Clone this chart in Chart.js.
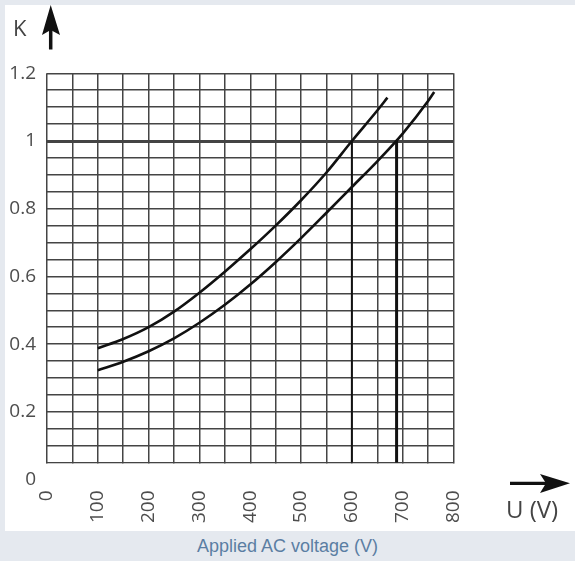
<!DOCTYPE html>
<html>
<head>
<meta charset="utf-8">
<script src="https://cdn.jsdelivr.net/npm/chart.js@4"></script>
<style>
  html, body { margin: 0; padding: 0; }
  body { width: 575px; height: 561px; background: #e5e9ef; position: relative; overflow: hidden; }
  #panel { position: absolute; left: 5px; top: 5px; width: 570px; height: 526px; background: #fff; }
  #wrap { position: absolute; left: 0; top: 0; width: 575px; height: 531px; }
  #caption { position: absolute; left: 0; top: 536px; width: 575px; height: 22px; line-height: 22px;
             text-align: center; color: #5b7ea3; font: 18px "Liberation Sans", Arial, sans-serif; }
</style>
</head>
<body>
<div id="panel"></div>
<div id="wrap"><canvas id="kChart"></canvas></div>
<div id="caption">Applied AC voltage (V)</div>
<script>
// Curve data
const voltageA = [100, 150, 200, 250, 300, 350, 400, 450, 500, 550, 600, 650, 670];
const factorA  = [0.388, 0.415, 0.450, 0.496, 0.552, 0.614, 0.680, 0.750, 0.825, 0.907, 1.0, 1.09, 1.128];
const voltageB = [100, 150, 200, 250, 300, 350, 400, 450, 500, 550, 600, 650, 700, 750, 762];
const factorB  = [0.323, 0.348, 0.379, 0.417, 0.463, 0.516, 0.576, 0.642, 0.713, 0.788, 0.864, 0.940, 1.022, 1.118, 1.145];

// drop lines from K = 1 to the curve crossings
const markVoltages = [600, 688];
const markTop = 1;
const gridFloor = 0.05;

// axis ticks
const xTicks = [0, 100, 200, 300, 400, 500, 600, 700, 800];
const yTicks = [0, 0.2, 0.4, 0.6, 0.8, 1, 1.2];

function toPoints(xs, ys) {
    return xs.map((x, i) => ({ x: x, y: ys[i] }));
}

const curveStyle = {
    borderColor: '#111',
    borderWidth: 2.6,
    pointRadius: 0,
    cubicInterpolationMode: 'monotone',
    fill: false
};

const datasets = [
    Object.assign({ data: toPoints(voltageA, factorA) }, curveStyle),
    Object.assign({ data: toPoints(voltageB, factorB) }, curveStyle)
];
markVoltages.forEach((v, i) => {
    datasets.push({
        data: [{ x: v, y: markTop }, { x: v, y: gridFloor }],
        borderColor: '#111',
        borderWidth: i === 0 ? 2 : 3,
        pointRadius: 0,
        tension: 0
    });
});

const tickFont = { family: '"Open Sans", sans-serif', size: 19 };

// white strip under the lowest grid line + K / U (V) arrows
const decorPlugin = {
    id: 'decor',
    beforeDatasetsDraw(chart) {
        const { ctx, chartArea, scales } = chart;
        const yCut = scales.y.getPixelForValue(gridFloor);
        ctx.save();
        ctx.fillStyle = '#fff';
        ctx.fillRect(chartArea.left - 3, yCut + 1, chartArea.right - chartArea.left + 6, chartArea.bottom - yCut + 3);
        ctx.restore();
    },
    afterDraw(chart) {
        const ctx = chart.ctx;
        ctx.save();
        ctx.fillStyle = '#111';
        ctx.strokeStyle = '#111';
        // up arrow
        ctx.lineWidth = 3.5;
        ctx.beginPath(); ctx.moveTo(50.7, 49.5); ctx.lineTo(50.7, 28); ctx.stroke();
        ctx.beginPath();
        ctx.moveTo(50.7, 5); ctx.lineTo(60, 35); ctx.lineTo(50.7, 30); ctx.lineTo(42, 35);
        ctx.closePath(); ctx.fill();
        // right arrow
        ctx.lineWidth = 3.2;
        ctx.beginPath(); ctx.moveTo(510, 483.3); ctx.lineTo(548, 483.3); ctx.stroke();
        ctx.beginPath();
        ctx.moveTo(570, 483.3); ctx.lineTo(540, 474); ctx.lineTo(546, 483.3); ctx.lineTo(540, 493);
        ctx.closePath(); ctx.fill();
        // axis letters
        ctx.fillStyle = '#444';
        ctx.textBaseline = 'alphabetic';
        ctx.font = '22px "Open Sans", sans-serif';
        ctx.fillText('K', 13, 35.5);
        ctx.font = '24px "Open Sans", sans-serif';
        ctx.fillText('U (V)', 506, 518);
        ctx.restore();
    }
};

const ctx = document.getElementById('kChart').getContext('2d');
const kChart = new Chart(ctx, {
    type: 'line',
    data: { datasets: datasets },
    options: {
        responsive: true,
        maintainAspectRatio: false,
        animation: false,
        layout: { padding: { left: 0, top: 73.3, right: 121.5, bottom: 0 } },
        plugins: { legend: { display: false }, tooltip: { enabled: false } },
        scales: {
            x: {
                type: 'linear',
                min: 0,
                max: 800,
                afterFit(scale) { scale.height = 51.5; },
                border: { display: false },
                grid: { color: '#444', lineWidth: 1.5, drawTicks: false },
                ticks: {
                    stepSize: 50,
                    maxTicksLimit: 100,
                    autoSkip: false,
                    minRotation: 90,
                    maxRotation: 90,
                    padding: 11,
                    color: '#4d4d4d',
                    font: tickFont,
                    callback: v => xTicks.includes(v) ? String(v) : ''
                }
            },
            y: {
                min: 0,
                max: 1.2,
                afterFit(scale) { scale.width = 47; },
                border: { display: false },
                grid: {
                    color: '#444',
                    drawTicks: false,
                    lineWidth: c => Math.abs(c.tick.value - markTop) < 1e-6 ? 3 : 1.5
                },
                ticks: {
                    stepSize: 0.05,
                    maxTicksLimit: 100,
                    autoSkip: false,
                    padding: 11,
                    color: '#4d4d4d',
                    font: tickFont,
                    callback: v => {
                        const r = Math.round(v * 10) / 10;
                        return yTicks.some(t => Math.abs(t - v) < 1e-6) ? String(r) : '';
                    }
                }
            }
        }
    },
    plugins: [decorPlugin]
});
</script>
</body>
</html>
